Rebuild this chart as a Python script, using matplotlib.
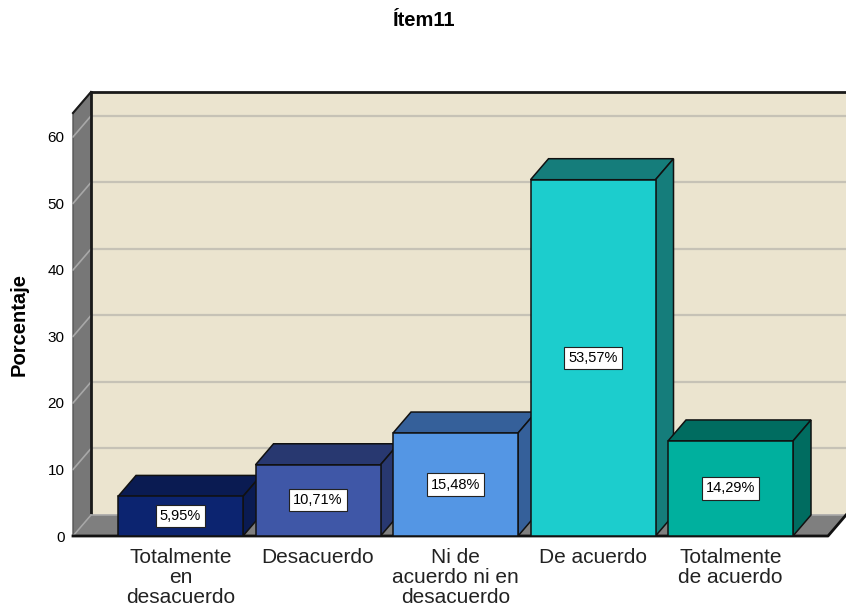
import matplotlib.pyplot as plt
from matplotlib.patches import Polygon, Rectangle

categorias = ['Totalmente\nen\ndesacuerdo', 'Desacuerdo', 'Ni de\nacuerdo ni en\ndesacuerdo',
              'De acuerdo', 'Totalmente\nde acuerdo']
porcentajes = [5.95, 10.71, 15.48, 53.57, 14.29]
yticks = [0, 10, 20, 30, 40, 50, 60]

frente = ['#0c2470', '#3f57a7', '#5496e4', '#1ccdcd', '#00b09e']
sombra = ['#0a1b52', '#283870', '#35609a', '#157d7b', '#006c60']

plt.rcParams['font.family'] = ['Liberation Sans', 'DejaVu Sans']

fig = plt.figure(figsize=(8.46, 6.10), dpi=100)
ax = fig.add_axes([73 / 846, 74 / 610, 755 / 846, 423 / 610])
x0, x1 = -0.782, 4.709
y0, y1 = 0, 63.6
ax.set_xlim(x0, x1)
ax.set_ylim(y0, y1)
ax.patch.set_visible(False)
for s in ax.spines.values():
    s.set_visible(False)

# profundidad del efecto 3D en unidades de datos
dx = 18 / 137.5
dy = 21 / 6.65
ancho = 0.909

# pared del fondo
ax.add_patch(Polygon([(x0 + dx, dy), (x1 + dx, dy), (x1 + dx, y1 + dy), (x0 + dx, y1 + dy)],
                     closed=True, facecolor='#ebe4cf', edgecolor='none', clip_on=False, zorder=1))
# pared izquierda
ax.add_patch(Polygon([(x0, 0), (x0 + dx, dy), (x0 + dx, y1 + dy), (x0, y1)],
                     closed=True, facecolor='#777777', edgecolor='#555555', lw=1, clip_on=False, zorder=2))
# líneas de cuadrícula
for t in yticks[1:]:
    ax.plot([x0 + dx, x1 + dx], [t + dy, t + dy], color='#c6c2b6', lw=1.6, clip_on=False, zorder=1.5)
    ax.plot([x0, x0 + dx], [t, t + dy], color='#a8a8a8', lw=1.2, clip_on=False, zorder=2.5)
ax.plot([x0 + dx, x1 + dx], [y1 + dy, y1 + dy], color='#1a1a1a', lw=2, clip_on=False, zorder=3)
ax.plot([x0, x0 + dx], [y1, y1 + dy], color='#1a1a1a', lw=1.5, clip_on=False, zorder=3)
ax.plot([x0 + dx, x0 + dx], [dy, y1 + dy], color='#1a1a1a', lw=2, clip_on=False, zorder=3)
# suelo
ax.add_patch(Polygon([(x0, 0), (x1, 0), (x1 + dx, dy), (x0 + dx, dy)],
                     closed=True, facecolor='#7f7f7f', edgecolor='none', clip_on=False, zorder=3))
ax.plot([x0, x0 + dx], [0, dy], color='#a8a8a8', lw=1.2, clip_on=False, zorder=3.1)
ax.plot([x0 + dx, x1 + dx], [dy, dy], color='#a8a8a8', lw=1.2, clip_on=False, zorder=3.1)
ax.plot([x0, x1, x1 + dx], [0, 0, dy], color='#111111', lw=2, clip_on=False, zorder=3.2)

# barras con caras superior y lateral
for i, (v, cf, cs) in enumerate(zip(porcentajes, frente, sombra)):
    z = 4 + i
    xl, xr = i - ancho / 2, i + ancho / 2
    ax.add_patch(Polygon([(xl, v), (xl + dx, v + dy), (xr + dx, v + dy), (xr, v)],
                         closed=True, facecolor=cs, edgecolor='#111111', lw=1.1, zorder=z, clip_on=False))
    ax.add_patch(Polygon([(xr, 0), (xr + dx, dy), (xr + dx, v + dy), (xr, v)],
                         closed=True, facecolor=cs, edgecolor='#111111', lw=1.1, zorder=z, clip_on=False))
    ax.add_patch(Rectangle((xl, 0), ancho, v, facecolor=cf, edgecolor='#111111', lw=1.1,
                           zorder=z + 0.1, clip_on=False))
    etiqueta = f'{v:.2f}'.replace('.', ',') + '%'
    ax.text(i, v / 2, etiqueta, ha='center', va='center', fontsize=10.5, zorder=z + 0.2,
            bbox=dict(boxstyle='square,pad=0.28', facecolor='white', edgecolor='#222222', lw=0.8))

ax.set_yticks(yticks)
ax.set_yticklabels([str(t) for t in yticks], fontsize=11)
ax.set_xticks(range(len(categorias)))
ax.set_xticklabels(categorias, fontsize=15, color='#222222')
for lbl in ax.get_xticklabels():
    lbl.set_linespacing(1.08)
ax.tick_params(axis='y', length=0, pad=6)
ax.tick_params(axis='x', length=0, pad=8.5)

fig.text(424 / 846, 1 - 21 / 610, 'Ítem11', ha='center', va='center', fontsize=14.5, fontweight='bold')
fig.text(19 / 846, 1 - 325 / 610, 'Porcentaje', ha='center', va='center', rotation=90,
         fontsize=14.5, fontweight='bold')

fig.savefig('out.png', dpi=100)
